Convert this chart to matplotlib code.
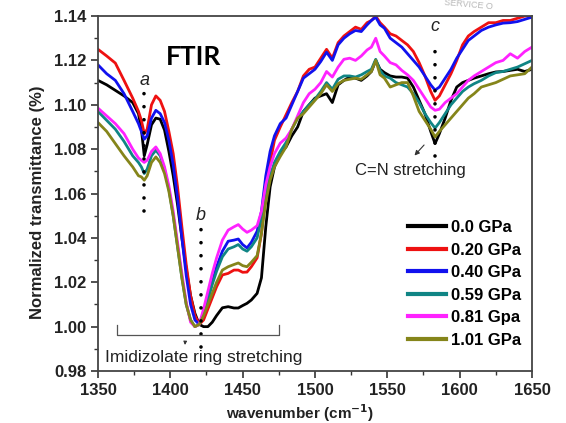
import matplotlib
matplotlib.use('Agg')
from matplotlib import pyplot as plt
from matplotlib.ticker import MultipleLocator

# wavenumber grid (cm-1)
wn = [1350, 1356, 1362, 1368, 1374, 1378, 1380, 1382, 1384, 1387, 1390, 1393, 1396, 1399,
      1402, 1405, 1408, 1411, 1414, 1417, 1420, 1423, 1426, 1429, 1432, 1436, 1440, 1444,
      1447, 1450, 1453, 1456, 1460, 1463, 1466, 1469, 1472, 1476, 1480, 1484, 1488, 1492,
      1496, 1500, 1504, 1508, 1512, 1516, 1520, 1524, 1528, 1532, 1536, 1539, 1542, 1545,
      1548, 1552, 1556, 1560, 1564, 1568, 1572, 1576, 1580, 1583, 1586, 1590, 1594, 1598,
      1602, 1606, 1610, 1615, 1620, 1625, 1630, 1635, 1640, 1645, 1650]

gpa_000 = [1.111, 1.109, 1.1065, 1.104, 1.101, 1.096, 1.089, 1.077, 1.082, 1.091, 1.094, 1.0935,
           1.0886, 1.079, 1.068, 1.055, 1.040, 1.026, 1.014, 1.006, 1.001, 1.000, 1.000, 1.002,
           1.005, 1.0085, 1.009, 1.0084, 1.0084, 1.0095, 1.0105, 1.012, 1.015, 1.022, 1.045,
           1.063, 1.072, 1.078, 1.081, 1.086, 1.090, 1.097, 1.100, 1.103, 1.104, 1.105, 1.101,
           1.109, 1.111, 1.1125, 1.112, 1.111, 1.113, 1.115, 1.120, 1.116, 1.1145, 1.113,
           1.1125, 1.1125, 1.112, 1.108, 1.102, 1.096, 1.088, 1.0825, 1.087, 1.094, 1.102,
           1.108, 1.110, 1.111, 1.112, 1.113, 1.114, 1.1148, 1.115, 1.1155, 1.116, 1.115, 1.116]

gpa_020 = [1.125, 1.122, 1.1188, 1.111, 1.103, 1.097, 1.093, 1.087, 1.089, 1.100, 1.104, 1.102,
           1.097, 1.088, 1.078, 1.063, 1.045, 1.028, 1.014, 1.005, 1.001, 1.003, 1.008, 1.013,
           1.018, 1.0233, 1.024, 1.0255, 1.0255, 1.0245, 1.0246, 1.027, 1.031, 1.042, 1.062,
           1.074, 1.084, 1.090, 1.0955, 1.101, 1.106, 1.113, 1.116, 1.117, 1.121, 1.125, 1.121,
           1.128, 1.131, 1.133, 1.135, 1.134, 1.137, 1.138, 1.140, 1.137, 1.135, 1.132, 1.131,
           1.129, 1.127, 1.124, 1.119, 1.113, 1.106, 1.102, 1.104, 1.109, 1.114, 1.120, 1.127,
           1.131, 1.133, 1.135, 1.137, 1.137, 1.138, 1.138, 1.139, 1.140, 1.140]

gpa_040 = [1.118, 1.114, 1.111, 1.105, 1.097, 1.0915, 1.088, 1.0845, 1.086, 1.094, 1.0975, 1.096,
           1.092, 1.084, 1.073, 1.058, 1.040, 1.023, 1.010, 1.003, 1.001, 1.006, 1.013, 1.020,
           1.027, 1.034, 1.0385, 1.039, 1.0395, 1.037, 1.0355, 1.038, 1.043, 1.052, 1.068,
           1.079, 1.086, 1.0915, 1.094, 1.100, 1.106, 1.112, 1.114, 1.116, 1.1195, 1.1237,
           1.120, 1.127, 1.130, 1.132, 1.1335, 1.133, 1.136, 1.138, 1.1395, 1.136, 1.1345,
           1.130, 1.128, 1.126, 1.123, 1.120, 1.117, 1.113, 1.109, 1.1066, 1.108, 1.112, 1.116,
           1.121, 1.125, 1.129, 1.131, 1.1335, 1.135, 1.136, 1.1368, 1.137, 1.1375, 1.1385, 1.1395]

gpa_059 = [1.097, 1.093, 1.089, 1.0835, 1.077, 1.074, 1.072, 1.069, 1.071, 1.077, 1.0795, 1.077,
           1.071, 1.062, 1.050, 1.036, 1.022, 1.010, 1.003, 1.000, 1.001, 1.006, 1.012, 1.019,
           1.025, 1.0315, 1.035, 1.036, 1.037, 1.035, 1.034, 1.036, 1.040, 1.049, 1.060, 1.068,
           1.074, 1.079, 1.083, 1.089, 1.094, 1.097, 1.100, 1.1025, 1.106, 1.110, 1.107, 1.1115,
           1.113, 1.113, 1.1125, 1.1135, 1.115, 1.116, 1.1205, 1.1155, 1.113, 1.112, 1.110,
           1.109, 1.108, 1.105, 1.101, 1.096, 1.092, 1.0895, 1.092, 1.096, 1.100, 1.103, 1.106,
           1.108, 1.1095, 1.111, 1.113, 1.1145, 1.115, 1.116, 1.117, 1.1185, 1.120]

gpa_081 = [1.0985, 1.095, 1.0915, 1.087, 1.080, 1.076, 1.075, 1.074, 1.075, 1.079, 1.081, 1.078,
           1.072, 1.0635, 1.052, 1.038, 1.024, 1.011, 1.002, 1.000, 1.001, 1.008, 1.016, 1.024,
           1.031, 1.039, 1.0435, 1.045, 1.046, 1.044, 1.0425, 1.0435, 1.0455, 1.052, 1.064,
           1.072, 1.078, 1.0827, 1.085, 1.089, 1.095, 1.101, 1.105, 1.107, 1.110, 1.115, 1.1125,
           1.117, 1.1205, 1.121, 1.120, 1.122, 1.1247, 1.126, 1.130, 1.124, 1.122, 1.119, 1.118,
           1.1155, 1.1135, 1.111, 1.107, 1.103, 1.099, 1.0975, 1.098, 1.101, 1.103, 1.105,
           1.108, 1.111, 1.113, 1.115, 1.117, 1.119, 1.120, 1.123, 1.121, 1.124, 1.126]

gpa_101 = [1.092, 1.088, 1.0825, 1.077, 1.072, 1.068, 1.0675, 1.066, 1.068, 1.074, 1.0765, 1.074,
           1.069, 1.061, 1.050, 1.036, 1.022, 1.010, 1.003, 1.000, 1.001, 1.005, 1.010, 1.015,
           1.020, 1.0255, 1.027, 1.028, 1.0287, 1.0275, 1.027, 1.029, 1.032, 1.042, 1.056,
           1.066, 1.072, 1.0767, 1.081, 1.089, 1.094, 1.096, 1.099, 1.102, 1.105, 1.109, 1.106,
           1.1095, 1.111, 1.1115, 1.112, 1.1115, 1.1135, 1.115, 1.120, 1.1135, 1.112, 1.108,
           1.109, 1.110, 1.110, 1.104, 1.097, 1.093, 1.089, 1.0855, 1.088, 1.091, 1.094, 1.097,
           1.100, 1.103, 1.105, 1.108, 1.109, 1.110, 1.1115, 1.113, 1.1135, 1.114, 1.117]

labels = ['0.0 GPa', '0.20 GPa', '0.40 GPa', '0.59 GPa', '0.81 Gpa', '1.01 GPa']
colors = ['#000000', '#ee1111', '#1111ee', '#108585', '#ff22ff', '#85851a']
series = [gpa_000, gpa_020, gpa_040, gpa_059, gpa_081, gpa_101]

plt.rcParams['font.family'] = ['Liberation Sans', 'DejaVu Sans']

fig = plt.figure(figsize=(5.66, 4.23), dpi=100)
ax = fig.add_axes([0.1731, 0.1229, 0.7668, 0.8392])

for s, c, lab in zip(series, colors, labels):
    ax.plot(wn, s, color=c, lw=2.0, label=lab, solid_joinstyle='round')

ax.set_xlim(1350, 1650)
ax.set_ylim(0.98, 1.14)
ax.xaxis.set_major_locator(MultipleLocator(50))
ax.xaxis.set_minor_locator(MultipleLocator(25))
ax.yaxis.set_major_locator(MultipleLocator(0.02))
ax.yaxis.set_minor_locator(MultipleLocator(0.01))
ax.yaxis.set_major_formatter(plt.FormatStrFormatter('%.2f'))
ax.tick_params(which='major', direction='out', length=5, width=1.2, colors='#333333',
               labelsize=12, labelcolor='#222222')
ax.tick_params(which='minor', direction='out', length=3, width=1.0, colors='#333333')
for lb in ax.get_xticklabels() + ax.get_yticklabels():
    lb.set_fontweight('bold')
for sp in ax.spines.values():
    sp.set_color('#444444')
    sp.set_linewidth(1.3)

ax.set_xlabel('wavenumber (cm$^{\\mathbf{-1}}$)', fontsize=11, fontweight='bold', color='#222222')
ax.set_ylabel('Normalized transmittance (%)', fontsize=12, fontweight='bold', color='#222222')
ax.xaxis.set_label_coords(0.465, -0.088)
ax.yaxis.set_label_coords(-0.123, 0.475)

# peak markers
dot = dict(color='black', lw=2.6, dashes=(0.01, 3.6), dash_capstyle='round')
ax.plot([1382, 1382], [1.052, 1.106], **dot)
ax.plot([1421, 1421], [0.991, 1.0444], **dot)
ax.plot([1583, 1583], [1.077, 1.127], **dot)
ax.text(1382, 1.111, 'a', fontsize=13, style='italic', ha='center', va='center', color='#222222')
ax.text(1421, 1.050, 'b', fontsize=13, style='italic', ha='center', va='center', color='#222222')
ax.text(1583, 1.1355, 'c', fontsize=13, style='italic', ha='center', va='center', color='#222222')

ax.text(1416, 1.1215, 'FTIR', fontsize=19, fontweight='bold', family=['Lato', 'DejaVu Sans'],
        ha='center', va='center')

ax.text(1565.6, 1.0706, 'C=N stretching', fontsize=12, ha='center', va='center', color='#222222')
ax.annotate('', xy=(1567.5, 1.0762), xytext=(1576.7, 1.0828),
            arrowprops=dict(arrowstyle='-|>', lw=0.8, color='#333333', mutation_scale=7))

ax.plot([1363, 1363, 1475, 1475], [1.0007, 0.9962, 0.9962, 1.0007], color='#555555', lw=0.9)
ax.annotate('', xy=(1410, 0.9905), xytext=(1410.4, 0.9945),
            arrowprops=dict(arrowstyle='-|>', lw=0.7, color='#333333', mutation_scale=5))
ax.text(1423, 0.9863, 'Imidizolate ring stretching', fontsize=12.5, ha='center', va='center',
        color='#222222')

ax.legend(loc='upper left', bbox_to_anchor=(0.714, 0.425), frameon=False, handlelength=2.3,
          handletextpad=0.3, labelspacing=0.45, borderpad=0, borderaxespad=0,
          prop={'size': 12, 'weight': 'bold'})
for h in ax.get_legend().get_lines():
    h.set_linewidth(3)

fig.text(0.785, 0.988, 'SERVICE O', fontsize=6.5, color='#b8b8b8', rotation=-5, ha='left', va='center')

fig.savefig('out.png', dpi=100)
